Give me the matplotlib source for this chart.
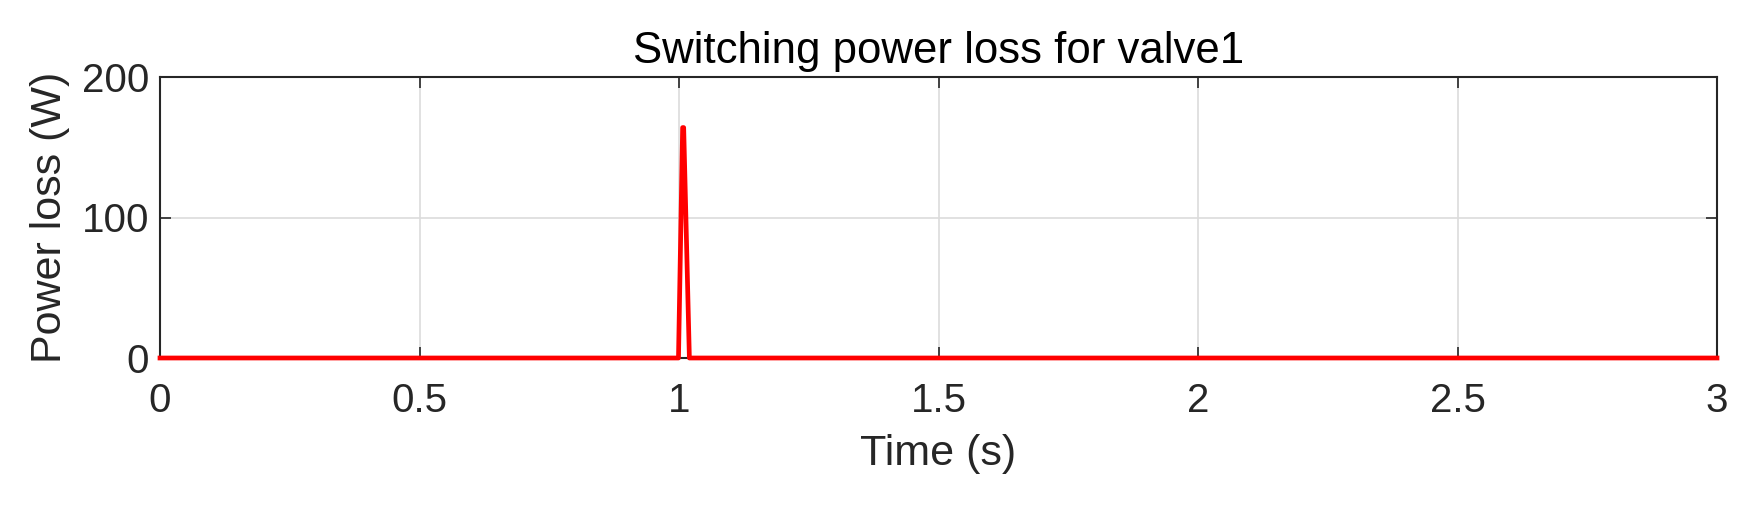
import matplotlib
matplotlib.use("Agg")
import matplotlib.pyplot as plt
import numpy as np

# switching loss data
t = [0.0, 0.999, 1.007, 1.009, 1.02, 3.0]
p_loss = [0.0, 0.0, 164.0, 164.0, 0.0, 0.0]

xticks = [0, 0.5, 1, 1.5, 2, 2.5, 3]
xtick_labels = ["0", "0.5", "1", "1.5", "2", "2.5", "3"]
yticks = [0, 100, 200]

plt.rcParams['font.family'] = ['Liberation Sans', 'DejaVu Sans']
txt = '#262626'

fig = plt.figure(figsize=(17.63, 5.07), dpi=100)
ax = fig.add_axes([160/1763, 1 - 358/507, (1717-160)/1763, (358-77)/507])

ax.plot(t, p_loss, color='#ff0000', lw=3.4, clip_on=False, zorder=5)

ax.set_xlim(0, 3)
ax.set_ylim(0, 200)
ax.set_xticks(xticks)
ax.set_xticklabels(xtick_labels)
ax.set_yticks(yticks)
ax.grid(True, color='#dcdcdc', lw=1.2)
ax.set_axisbelow(True)
ax.tick_params(direction='in', length=8, width=1.2, labelsize=29, colors=txt,
               top=True, right=True, pad=8)
ax.tick_params(axis='x', pad=17)
for s in ax.spines.values():
    s.set_color('#262626')
    s.set_linewidth(1.5)

ax.set_title("Switching power loss for valve1", fontsize=31.5, color='black', pad=10)
ax.set_xlabel("Time (s)", fontsize=31, color=txt, labelpad=10)
ax.set_ylabel("Power loss (W)", fontsize=31, color=txt, labelpad=8)

fig.savefig("out.png", dpi=100)
